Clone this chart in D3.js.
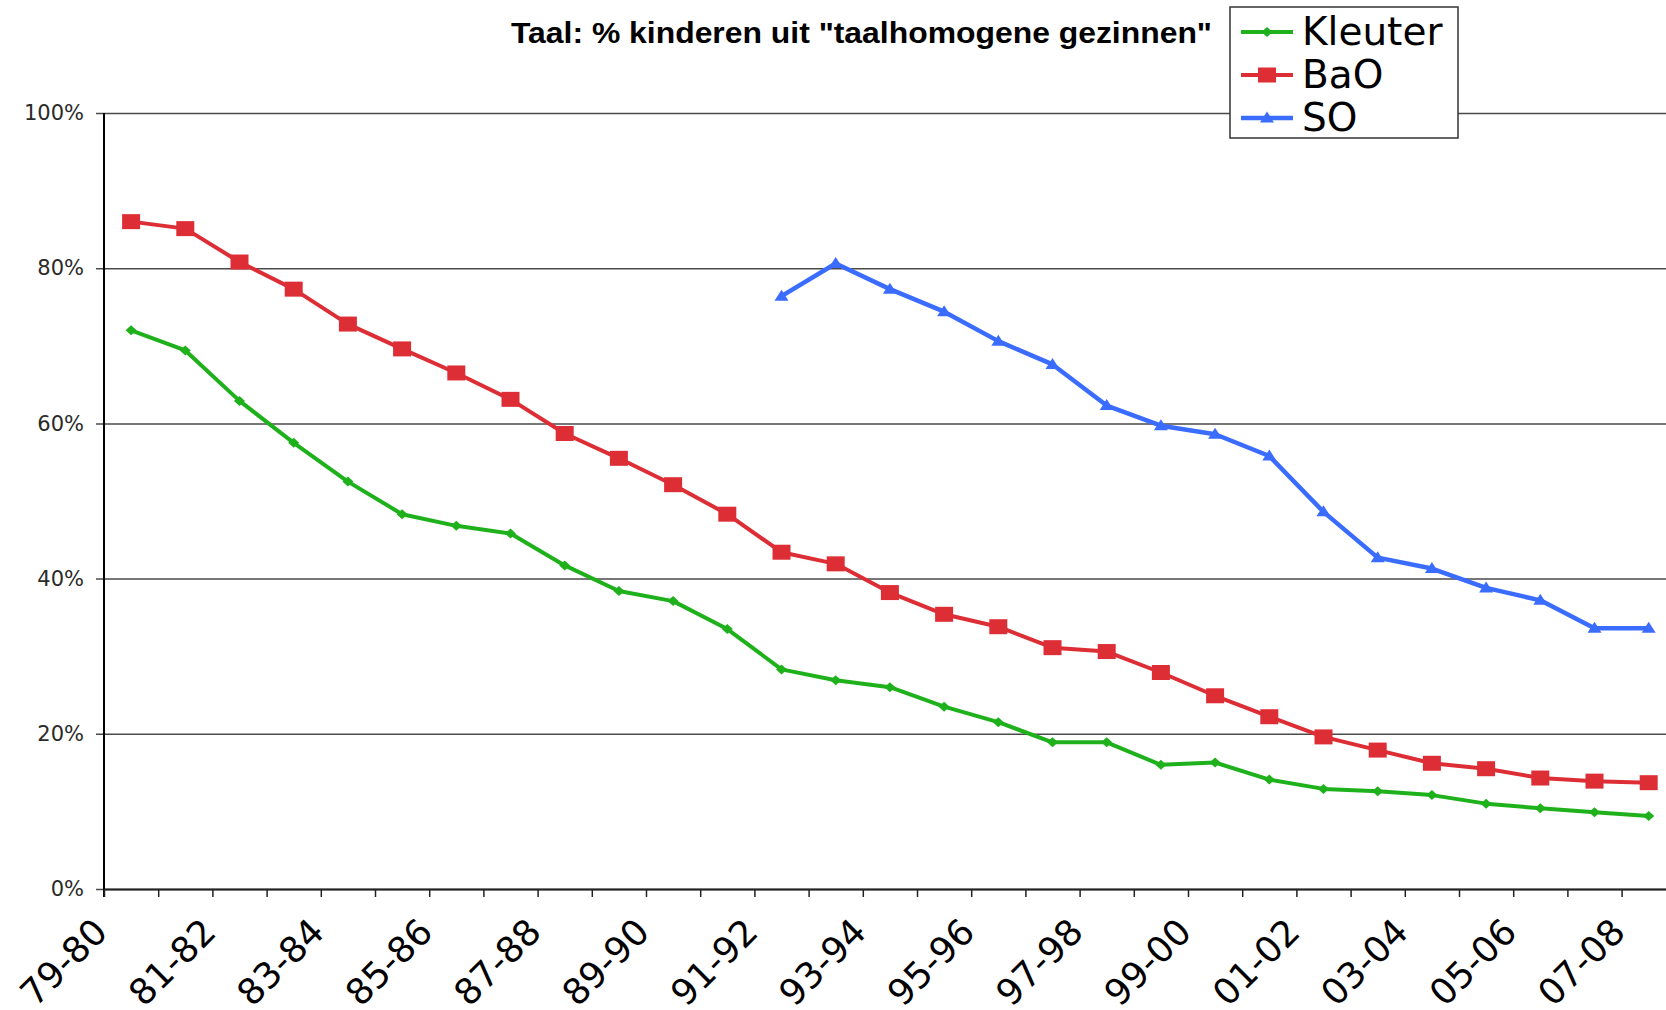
<!DOCTYPE html>
<html>
<head>
<meta charset="utf-8">
<script src="https://cdn.jsdelivr.net/npm/d3@7"></script>
<style>
  body { margin: 0; background: #fff; }
  svg { display: block; }
</style>
</head>
<body>
<div id="chart"></div>
<script>
const width = 1666,
    height = 1010,
    margin = ({ top: 113, left: 104, bottom: 889 }); // plot area edges

// school years on the x axis
const years = ["79-80", "80-81", "81-82", "82-83", "83-84", "84-85", "85-86", "86-87", "87-88", "88-89",
    "89-90", "90-91", "91-92", "92-93", "93-94", "94-95", "95-96", "96-97", "97-98", "98-99",
    "99-00", "00-01", "01-02", "02-03", "03-04", "04-05", "05-06", "06-07", "07-08"];

// % of children from language-homogeneous families
const kleuter = [72.0, 69.4, 62.9, 57.5, 52.5, 48.3, 46.8, 45.8, 41.7, 38.4,
    37.1, 33.5, 28.3, 26.9, 26.0, 23.5, 21.5, 18.9, 18.9, 16.0,
    16.3, 14.1, 12.9, 12.6, 12.1, 11.0, 10.4, 9.9, 9.4];
const bao = [86.0, 85.1, 80.8, 77.3, 72.8, 69.6, 66.5, 63.1, 58.7, 55.5,
    52.1, 48.3, 43.4, 41.9, 38.2, 35.4, 33.8, 31.1, 30.6, 27.9,
    24.9, 22.2, 19.6, 17.9, 16.2, 15.5, 14.3, 13.9, 13.7];
const so = [null, null, null, null, null, null, null, null, null, null,
    null, null, 76.4, 80.6, 77.3, 74.4, 70.6, 67.6, 62.3, 59.7,
    58.6, 55.8, 48.6, 42.7, 41.3, 38.8, 37.2, 33.6, 33.6];

const yTicks = [0, 20, 40, 60, 80, 100];
const title = "Taal: % kinderen uit \"taalhomogene gezinnen\"";

const series = [
    { name: "Kleuter", values: kleuter, color: "#1fb11c", width: 4, marker: "diamond" },
    { name: "BaO", values: bao, color: "#dd2e36", width: 4, marker: "square" },
    { name: "SO", values: so, color: "#3a6cff", width: 4.5, marker: "triangle" }
];

const svg = d3.select("#chart")
    .append("svg")
    .attr("width", width)
    .attr("height", height);

// category boundaries: tick i is the left edge of years[i]
let x = d3.scaleLinear()
    .domain([0, years.length])
    .range([margin.left, margin.left + years.length * 54.2]);

let y = d3.scaleLinear()
    .domain([0, 100])
    .range([margin.bottom, margin.top]);

// y axis with gridlines across
svg.append("g")
    .attr("transform", `translate(${margin.left},0)`)
    .call(d3.axisLeft(y).tickValues(yTicks).tickSize(-(width - margin.left)).tickPadding(20)
        .tickFormat(d => d + "%"))
    .call(g => g.select(".domain").remove())
    .call(g => g.selectAll(".tick line").attr("x1", -8).attr("stroke", "#4a4a4a").attr("stroke-width", 1.5))
    .call(g => g.selectAll(".tick text")
        .attr("font-family", "DejaVu Sans")
        .attr("font-size", 21)
        .attr("fill", "#2a2a2a"));

svg.append("line") // y axis line
    .attr("x1", margin.left).attr("x2", margin.left)
    .attr("y1", margin.top).attr("y2", margin.bottom + 8)
    .attr("stroke", "#000")
    .attr("stroke-width", 2);

// x axis, ticks at category edges, label every other year
svg.append("g")
    .attr("transform", `translate(0,${margin.bottom})`)
    .call(d3.axisBottom(x).tickValues(d3.range(0, years.length + 1)).tickSize(8).tickSizeOuter(0)
        .tickFormat(i => (i % 2 === 0 && i < years.length) ? years[i] : ""))
    .call(g => g.select(".domain").attr("stroke", "#222").attr("stroke-width", 2))
    .call(g => g.selectAll(".tick line").attr("stroke", "#222").attr("stroke-width", 1.5))
    .call(g => g.selectAll(".tick text")
        .attr("font-family", "DejaVu Sans")
        .attr("font-size", 36)
        .attr("fill", "#000")
        .attr("text-anchor", "end")
        .attr("x", 0).attr("y", 0).attr("dy", 0)
        .attr("transform", "translate(5,45) rotate(-45)"));

const cx = i => x(i + 0.5);

function markerPath(type) {
    if (type === "diamond") return "M0,-5L5.5,0L0,5L-5.5,0Z";
    if (type === "square") return "M-9,-7.5H9V7.5H-9Z";
    return "M0,-6.5L7,4.5H-7Z";
}

let line = d3.line()
    .defined(d => d != null)
    .x((d, i) => cx(i))
    .y(d => y(d));

series.forEach(s => {
    svg.append("path") // the series line
        .datum(s.values)
        .attr("d", line)
        .attr("fill", "none")
        .attr("stroke", s.color)
        .attr("stroke-width", s.width)
        .attr("stroke-linejoin", "round");

    svg.append("g")
        .selectAll("path")
        .data(s.values.map((v, i) => ({ v, i })).filter(d => d.v != null))
        .join("path")
        .attr("transform", d => `translate(${cx(d.i)},${y(d.v)})`)
        .attr("d", markerPath(s.marker))
        .attr("fill", s.color);
});

// title
svg.append("text")
    .attr("x", 511)
    .attr("y", 43)
    .attr("font-family", "Liberation Sans")
    .attr("font-weight", "bold")
    .attr("font-size", 29)
    .attr("textLength", 701)
    .attr("lengthAdjust", "spacingAndGlyphs")
    .text(title);

// legend
const legend = svg.append("g");
legend.append("rect")
    .attr("x", 1230).attr("y", 7)
    .attr("width", 228).attr("height", 131)
    .attr("fill", "#fff")
    .attr("stroke", "#333")
    .attr("stroke-width", 1.5);

series.forEach((s, k) => {
    const ly = 32 + k * 43;
    legend.append("line")
        .attr("x1", 1241).attr("x2", 1293)
        .attr("y1", ly).attr("y2", ly)
        .attr("stroke", s.color)
        .attr("stroke-width", s.width);
    legend.append("path")
        .attr("transform", `translate(1267,${ly})`)
        .attr("d", markerPath(s.marker))
        .attr("fill", s.color);
    legend.append("text")
        .attr("x", 1302)
        .attr("y", ly + 13)
        .attr("font-family", "DejaVu Sans")
        .attr("font-size", 39)
        .text(s.name);
});
</script>
</body>
</html>
